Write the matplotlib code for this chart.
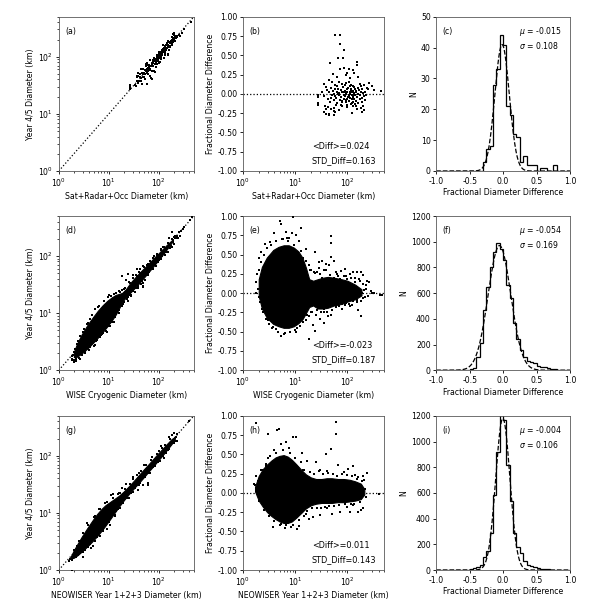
import numpy as np
import matplotlib.pyplot as plt

# ---- row 1: Sat+Radar+Occ sample, (diameter km, fractional diameter difference)
sro_diam = [58, 73, 71, 84, 67, 81, 47, 152, 152, 73, 87, 105, 125, 52, 62, 92, 100, 135, 112, 160,
            45, 50, 57, 68, 78, 95, 108, 118, 130, 170, 180, 210, 235, 260, 290, 35, 38, 250, 320, 430,
            27, 27, 27, 27, 33, 36, 40, 42, 44, 46, 48, 50, 52, 54, 56, 58, 60, 62, 64, 66,
            68, 70, 72, 74, 76, 78, 80, 82, 84, 86, 88, 90, 92, 94, 96, 98, 100, 102, 104, 106,
            108, 110, 112, 114, 116, 118, 120, 122, 124, 126, 128, 130, 133, 136, 139, 142, 145, 148, 152, 156,
            160, 165, 170, 175, 180, 186, 192, 198, 205, 212, 220, 230, 62, 88, 110, 135, 75, 100, 120, 140,
            65, 95, 115, 145, 125, 105, 85, 58, 48, 78, 92, 160, 190,
            37, 38, 36, 39, 42, 45, 44, 55, 55, 56, 58, 68, 80, 122, 150, 145, 200, 205, 190, 180,
            100, 130, 60, 48]
sro_diff = [0.77, 0.77, 0.65, 0.57, 0.46, 0.46, 0.40, 0.42, 0.38, 0.32, 0.33, 0.32, 0.31, 0.26, 0.22, 0.25, 0.27, 0.27, 0.21, 0.22,
            0.18, 0.15, 0.12, 0.15, 0.13, 0.14, 0.16, 0.12, 0.10, 0.13, 0.10, 0.12, 0.08, 0.14, 0.10, 0.13, 0.09, 0.06, 0.05, 0.04,
            -0.01, -0.04, -0.12, -0.14, 0.02, -0.03, 0.05, -0.06, 0.02, -0.10, 0.08, -0.02, 0.04, -0.08, 0.00, 0.06, -0.05, 0.03, -0.12, 0.07,
            -0.02, 0.01, -0.08, 0.05, -0.04, 0.02, -0.10, 0.09, -0.01, -0.06, 0.04, -0.03, 0.00, -0.11, 0.06, -0.07, 0.02, -0.04, 0.08, -0.01,
            -0.09, 0.03, -0.05, 0.00, -0.13, 0.05, -0.02, -0.07, 0.02, -0.10, 0.04, -0.03, 0.01, -0.06, 0.07, -0.01, -0.09, 0.03, -0.04, 0.00,
            -0.12, 0.05, -0.02, -0.07, 0.02, -0.05, -0.10, 0.01, -0.03, -0.08, 0.03, -0.02, 0.10, 0.11, 0.10, 0.09, -0.14, -0.14, -0.12, -0.13,
            0.00, 0.01, 0.06, 0.04, -0.05, -0.03, 0.02, -0.03, -0.05, -0.09, -0.08, 0.08, 0.07,
            -0.16, -0.19, -0.23, -0.26, -0.17, -0.26, -0.28, -0.27, -0.22, -0.18, -0.24, -0.21, -0.16, -0.25, -0.19, -0.16, -0.16, -0.21, -0.24, -0.18,
            -0.17, -0.16, -0.15, -0.20]

# ---- row 2: WISE cryogenic sample; dense core outline and sparse points
wise_core_diam = [2.0, 2.3, 2.85, 3.8, 4.8, 6.0, 7.5, 9.4, 11.5, 13.7, 16, 18.5, 22, 27, 34, 42, 55, 77, 100, 140, 185]
wise_core_hi = [0.18, 0.34, 0.46, 0.56, 0.60, 0.62, 0.62, 0.59, 0.54, 0.46, 0.33, 0.18, 0.16, 0.18, 0.20, 0.21, 0.20, 0.18, 0.16, 0.11, 0.05]
wise_core_lo = [-0.04, -0.20, -0.32, -0.40, -0.43, -0.45, -0.45, -0.43, -0.39, -0.34, -0.26, -0.18, -0.16, -0.20, -0.20, -0.19, -0.16, -0.14, -0.11, -0.08, -0.03]
wise_pts_diam = [5.1, 5.3, 9.2, 12.7, 6.8, 8.8, 10.5, 4.0, 3.3, 2.6, 2.2, 2.0, 7.6, 11.8, 15.8, 24.4, 49, 49, 49, 54,
                 33, 28, 38, 45, 60, 75, 88, 110, 130, 150, 185, 200, 175, 240, 260, 300, 415, 230, 18.3, 24.4,
                 22, 30, 36, 42, 48, 80, 110, 185, 160, 5.3, 6.1, 4.7, 4.2, 10.2, 12.5, 1.8, 1.9, 2.0, 2.3, 3.0,
                 14, 18, 20, 26, 35, 65, 95, 140, 120, 90, 60, 200, 150, 250, 35, 25, 16,
                 15, 17, 19, 21, 23, 26, 28, 31, 33, 36, 39, 42, 46, 50, 55, 58, 62, 68, 72, 78,
                 85, 92, 100, 108, 118, 128, 138, 155, 165, 180, 195, 215, 225, 280, 190, 210,
                 1.8, 1.85, 2.0, 2.1, 2.2, 2.4, 2.5, 2.7, 2.9, 3.2, 3.4, 3.8, 4.2, 4.6, 5.6, 6.5, 7.0, 8.0, 9.5, 11,
                 13, 14, 16, 18, 316, 460, 5.8, 7.2, 3.6, 9.8, 20, 24, 30, 40]
wise_pts_diff = [0.93, 0.89, 0.99, 0.85, 0.79, 0.78, 0.76, 0.78, 0.66, 0.64, 0.53, 0.45, 0.71, 0.68, 0.57, 0.53, 0.74, 0.65, 0.47, 0.41,
                 0.41, 0.40, 0.38, 0.37, 0.27, 0.29, 0.31, 0.25, 0.27, 0.28, 0.27, 0.24, 0.16, 0.16, 0.15, 0.00, -0.03, 0.05, -0.59, -0.49,
                 -0.42, -0.34, -0.39, -0.30, -0.28, -0.21, -0.17, -0.30, -0.22, -0.55, -0.53, -0.50, -0.47, -0.51, -0.43, 0.15, 0.05, -0.05, -0.20, -0.35,
                 0.45, 0.36, 0.30, 0.27, 0.30, 0.22, 0.22, 0.20, -0.15, -0.16, -0.18, -0.07, -0.12, -0.04, -0.25, -0.28, -0.35,
                 0.35, -0.28, 0.30, -0.24, 0.28, -0.22, 0.33, -0.25, 0.20, -0.20, 0.30, -0.18, 0.24, -0.22, 0.20, -0.15, 0.25, -0.17, 0.18, -0.14,
                 0.22, -0.13, 0.18, -0.14, 0.20, -0.10, 0.15, -0.09, 0.18, -0.10, 0.12, -0.05, 0.10, 0.03, 0.00, 0.04,
                 0.00, 0.25, 0.30, -0.12, 0.40, -0.25, 0.50, -0.33, 0.58, -0.40, 0.62, -0.44, 0.68, -0.50, 0.70, -0.52, 0.72, -0.50, 0.62, -0.45,
                 0.55, -0.38, 0.42, -0.30, 0.00, -0.03, 0.70, 0.68, -0.45, -0.48, -0.24, 0.26, 0.25, -0.24]

# ---- row 3: NEOWISER Year 1+2+3 sample
neo_core_diam = [1.7, 2.0, 2.4, 2.9, 3.5, 4.2, 5.0, 6.0, 7.2, 8.6, 10.5, 13, 16, 20, 25, 32, 40, 50, 65, 85, 110, 140, 180, 210]
neo_core_hi = [0.08, 0.22, 0.31, 0.37, 0.42, 0.46, 0.48, 0.49, 0.47, 0.43, 0.37, 0.30, 0.24, 0.20, 0.18, 0.18, 0.19, 0.19, 0.18, 0.18, 0.17, 0.15, 0.12, 0.05]
neo_core_lo = [0.02, -0.10, -0.18, -0.25, -0.30, -0.34, -0.37, -0.39, -0.39, -0.37, -0.32, -0.26, -0.20, -0.16, -0.14, -0.13, -0.13, -0.13, -0.12, -0.12, -0.11, -0.10, -0.08, -0.02]
neo_pts_diam = [1.8, 3.0, 4.5, 4.8, 9.2, 10.5, 60, 60, 48, 38, 5.3, 6.6, 7.6, 3.9, 3.0, 13.6, 17, 25, 67, 104,
                125, 140, 232, 200, 210, 400, 190, 3.7, 5.3, 8.2, 11, 12, 6.5, 18.3, 22, 30, 50, 72, 110, 160,
                180, 200, 1.7, 1.9, 2.1, 2.3, 2.6, 2.8, 2.4, 15, 14, 30, 40, 85, 150, 100, 130, 40,
                15, 17, 19, 21, 23, 26, 28, 31, 34, 37, 42, 45, 52, 56, 62, 70, 78, 90, 96, 115,
                120, 135, 160, 170, 190, 220, 230,
                1.6, 1.8, 2.0, 2.2, 2.5, 2.7, 3.1, 3.3, 3.9, 4.3, 5.0, 5.8, 6.8, 7.8, 9.0, 10, 12, 13, 16]
neo_pts_diff = [0.91, 0.76, 0.82, 0.83, 0.73, 0.72, 0.92, 0.77, 0.57, 0.51, 0.64, 0.66, 0.58, 0.56, 0.45, 0.52, 0.42, 0.40, 0.36, 0.31,
                0.35, 0.23, 0.26, 0.22, 0.17, -0.01, 0.06, -0.44, -0.40, -0.44, -0.47, -0.43, -0.45, -0.34, -0.31, -0.29, -0.27, -0.25, -0.25, -0.25,
                -0.22, -0.20, 0.10, 0.15, 0.00, -0.12, -0.20, 0.35, 0.30, -0.30, 0.30, 0.30, 0.28, 0.27, 0.18, -0.18, -0.16, -0.20,
                0.30, -0.24, 0.27, -0.20, 0.25, -0.19, 0.28, -0.20, 0.24, -0.18, 0.26, -0.17, 0.25, -0.17, 0.22, -0.16, 0.24, -0.15, 0.23, -0.15,
                0.22, -0.14, 0.21, -0.12, 0.15, 0.05, -0.05,
                0.12, 0.22, -0.10, 0.30, -0.22, 0.38, -0.30, 0.48, -0.36, 0.52, -0.41, 0.55, -0.42, 0.52, -0.41, 0.45, -0.35, 0.40, -0.27]

# ---- histograms of fractional difference, 0.05 wide bins from -1 to 1
sro_counts = [0] * 14 + [3, 7, 8, 28, 33, 44, 41, 21, 18, 12, 11, 3, 5, 2, 2, 2, 0, 1, 1, 0, 0, 2, 0, 0, 0, 0]
wise_counts = [0] * 9 + [5, 10, 20, 100, 210, 470, 650, 800, 920, 990, 940, 860, 660, 560, 370, 240, 160,
                         100, 75, 60, 55, 30, 28, 25, 15, 12, 8, 3, 0, 0, 0]
neo_counts = [0] * 10 + [5, 15, 25, 40, 100, 150, 290, 580, 920, 1210, 1170, 820, 540, 290, 180, 130,
                         70, 40, 30, 20, 12, 10, 8, 5, 3, 2, 2, 1, 1, 1]

# fitted gaussians: (mu, sigma, peak)
sro_fit = (-0.015, 0.108, 41)
wise_fit = (-0.054, 0.169, 970)
neo_fit = (-0.004, 0.106, 1180)

stats = [("0.024", "0.163"), ("-0.023", "0.187"), ("0.011", "0.143")]
xlabels = ["Sat+Radar+Occ Diameter (km)", "WISE Cryogenic Diameter (km)", "NEOWISER Year 1+2+3 Diameter (km)"]
hist_ymax = [50, 1200, 1200]
panel_tags = ["abc", "def", "ghi"]

FS = 5.6
plt.rcParams.update({
    "font.size": FS,
    "axes.linewidth": 0.6,
    "axes.edgecolor": "0.35",
    "xtick.major.size": 2.5, "ytick.major.size": 2.5,
    "xtick.minor.size": 1.4, "ytick.minor.size": 1.4,
    "xtick.major.width": 0.6, "ytick.major.width": 0.6,
    "xtick.minor.width": 0.5, "ytick.minor.width": 0.5,
    "xtick.major.pad": 1.5, "ytick.major.pad": 1.5,
    "axes.labelpad": 2,
})

fig = plt.figure(figsize=(6, 6), dpi=100)
col_left = [0.098, 0.405, 0.727]
col_width = [0.225, 0.235, 0.223]
row_bottom = [0.715, 0.383, 0.05]
row_h = 0.257

edges = np.linspace(-1, 1, 41)
xg = np.linspace(-1, 1, 400)
ref = np.array([1, 500])

rows = [
    (np.array(sro_diam, float), np.array(sro_diff), None, None, None, sro_counts, sro_fit),
    (np.array(wise_pts_diam, float), np.array(wise_pts_diff), np.array(wise_core_diam, float),
     np.array(wise_core_hi), np.array(wise_core_lo), wise_counts, wise_fit),
    (np.array(neo_pts_diam, float), np.array(neo_pts_diff), np.array(neo_core_diam, float),
     np.array(neo_core_hi), np.array(neo_core_lo), neo_counts, neo_fit),
]

for r, (d, df, cd, chi, clo, counts, fit) in enumerate(rows):
    tags = panel_tags[r]
    axs = [fig.add_axes([col_left[c], row_bottom[r], col_width[c], row_h]) for c in range(3)]

    # left: Year 4/5 diameter vs comparison diameter
    ax = axs[0]
    ax.plot(ref, ref, ":", color="k", lw=0.9, zorder=1)
    if cd is not None:
        ax.fill_between(cd, cd / (1 + chi), cd / (1 + clo), color="k", lw=0.8, zorder=2)
    ax.scatter(d, d / (1 + df), s=3.5, color="k", marker="s", linewidths=0, zorder=3)
    ax.set_xscale("log")
    ax.set_yscale("log")
    ax.set_xlim(1, 500)
    ax.set_ylim(1, 500)
    ax.set_xlabel(xlabels[r])
    ax.set_ylabel("Year 4/5 Diameter (km)")

    # middle: fractional difference vs diameter
    ax = axs[1]
    ax.plot(ref, [0, 0], ":", color="k", lw=0.9, zorder=1)
    if cd is not None:
        ax.fill_between(cd, clo, chi, color="k", lw=0.8, zorder=2)
    ax.scatter(d, df, s=3.5, color="k", marker="s", linewidths=0, zorder=3)
    ax.set_xscale("log")
    ax.set_xlim(1, 500)
    ax.set_ylim(-1, 1)
    ax.set_yticks(np.arange(-1, 1.01, 0.25))
    ax.yaxis.set_major_formatter(plt.FormatStrFormatter("%.2f"))
    ax.set_xlabel(xlabels[r])
    ax.set_ylabel("Fractional Diameter Difference")
    ax.text(0.487, 0.158, "<Diff>=" + stats[r][0], transform=ax.transAxes, va="center", fontsize=FS + 0.3)
    ax.text(0.487, 0.067, "STD_Diff=" + stats[r][1], transform=ax.transAxes, va="center", fontsize=FS + 0.3)

    # right: histogram with gaussian fit
    ax = axs[2]
    ax.stairs(counts, edges, color="k", lw=0.9)
    mu, sig, amp = fit
    ax.plot(xg, amp * np.exp(-0.5 * ((xg - mu) / sig) ** 2), "--", color="k", lw=0.9)
    ax.set_xlim(-1, 1)
    ax.set_ylim(0, hist_ymax[r])
    ax.set_xticks([-1, -0.5, 0, 0.5, 1])
    ax.xaxis.set_major_formatter(plt.FormatStrFormatter("%.1f"))
    ax.set_xlabel("Fractional Diameter Difference")
    ax.set_ylabel("N")
    ax.text(0.62, 0.905, r"$\mu$ = %.3f" % mu, transform=ax.transAxes, va="center")
    ax.text(0.62, 0.814, r"$\sigma$ = %.3f" % sig, transform=ax.transAxes, va="center")

    for c, ax in enumerate(axs):
        ax.text(0.045, 0.905, "(%s)" % tags[c], transform=ax.transAxes, va="center")

fig.savefig("out.png", dpi=100)
